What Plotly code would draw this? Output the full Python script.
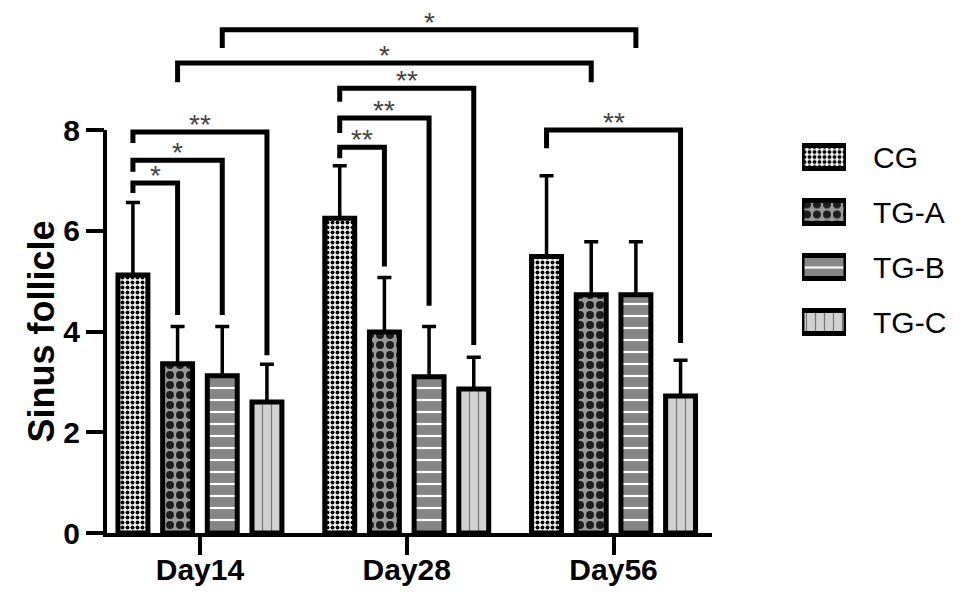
import plotly.graph_objects as go

# ---------------- data ----------------
categories = ["Day14", "Day28", "Day56"]
groups = ["CG", "TG-A", "TG-B", "TG-C"]

cg_mean = [5.12, 6.25, 5.49]
cg_err = [1.44, 1.04, 1.60]
tga_mean = [3.36, 3.99, 4.73]
tga_err = [0.74, 1.08, 1.05]
tgb_mean = [3.12, 3.10, 4.73]
tgb_err = [0.98, 1.00, 1.05]
tgc_mean = [2.60, 2.86, 2.72]
tgc_err = [0.75, 0.63, 0.71]

means = [cg_mean, tga_mean, tgb_mean, tgc_mean]
errs = [cg_err, tga_err, tgb_err, tgc_err]

y_ticks = [0, 2, 4, 6, 8]
y_title = "Sinus follicle"

# significance brackets: (cat_a, grp_a, cat_b, grp_b, y_top, y_leg_a, y_leg_b, label)
brackets = [
    (0, 0, 0, 1, 6.95, 6.75, 4.33, "*"),
    (0, 0, 0, 2, 7.40, 7.17, 4.33, "*"),
    (0, 0, 0, 3, 7.96, 7.74, 3.53, "**"),
    (1, 0, 1, 1, 7.66, 7.44, 5.29, "**"),
    (1, 0, 1, 2, 8.24, 7.94, 4.51, "**"),
    (1, 0, 1, 3, 8.83, 8.56, 3.73, "**"),
    (2, 0, 2, 3, 8.00, 7.64, 3.77, "**"),
    (0, 1, 2, 1, 9.33, 8.95, 8.95, "*"),
    (0, 2, 2, 2, 9.99, 9.63, 9.63, "*"),
]

# ---------------- styles ----------------
patterns = [
    dict(shape=".", fgcolor="#000000", bgcolor="#ffffff", size=5, solidity=0.5),
    dict(shape=".", fgcolor="#1e1e1e", bgcolor="#9a9a9a", size=10, solidity=0.5),
    dict(shape="-", fgcolor="#ffffff", bgcolor="#868686", size=12, solidity=0.18),
    dict(shape="|", fgcolor="#7a7a7a", bgcolor="#d2d2d2", size=9, solidity=0.14),
]

FONT = "Liberation Sans, Arial, sans-serif"
W, H = 964, 602
PAGE_OFF = 8  # default page margin of the html body
# target page-pixel geometry of the plot area
P_LEFT, P_RIGHT_AXIS, P_TOP, P_BOTTOM = 105, 712, 10, 533
ML = P_LEFT - PAGE_OFF
MT = P_TOP - PAGE_OFF
MR = 10
MB = H - (P_BOTTOM - PAGE_OFF)
plot_w = W - ML - MR
plot_h = H - MT - MB


def fx(page_x):
    return (page_x - P_LEFT) / plot_w


def fy(page_y):
    return (P_BOTTOM - page_y) / plot_h


px_per_unit = (533 - 130) / 8.0
y_max = plot_h / px_per_unit
x_range = [-0.459, 2.476]

bargap = 0.136
bargroupgap = 0.33
slot = (1 - bargap) / len(groups)

fig = go.Figure()


def pattern_marker(p):
    return dict(color=p["bgcolor"], line=dict(color="black", width=5),
                pattern=dict(shape=p["shape"], fgcolor=p["fgcolor"], bgcolor=p["bgcolor"],
                             size=p["size"], solidity=p["solidity"], fillmode="replace"))


for j, g in enumerate(groups):
    fig.add_trace(go.Bar(
        name=g, x=categories, y=means[j],
        marker=pattern_marker(patterns[j]),
        error_y=dict(type="data", array=errs[j], arrayminus=[0] * len(categories),
                     symmetric=False, thickness=3.5, width=7, color="black"),
        showlegend=False, hoverinfo="skip",
    ))

# custom legend: one swatch bar per group on a secondary axis pair
for j, g in enumerate(groups):
    fig.add_trace(go.Bar(
        x=[1], y=[g], orientation="h", xaxis="x2", yaxis="y2",
        width=0.42, offset=-0.21,
        marker=pattern_marker(patterns[j]),
        showlegend=False, hoverinfo="skip",
    ))


def bar_x(cat, grp):
    return cat + (grp - (len(groups) - 1) / 2) * slot


shapes = []
annotations = []
for ca, ga, cb, gb, yt, ya, yb, lab in brackets:
    xa, xb = bar_x(ca, ga), bar_x(cb, gb)
    shapes.append(dict(type="path", xref="x", yref="y",
                       path=f"M {xa},{ya} L {xa},{yt} L {xb},{yt} L {xb},{yb}",
                       line=dict(color="black", width=5)))
    annotations.append(dict(x=(xa + xb) / 2, y=yt, xref="x", yref="y", text=lab,
                            showarrow=False, yanchor="bottom", yshift=-10,
                            font=dict(family=FONT, size=28, color="#444444")))

# y-axis title centred on the 0..8 axis
annotations.append(dict(x=fx(41), y=4, xref="paper", yref="y", text=y_title,
                        textangle=-90, showarrow=False, xanchor="center", yanchor="middle",
                        font=dict(family=FONT, size=36, weight="bold", color="black")))

# y axis line (0..8)
shapes.append(dict(type="line", xref="x domain", yref="y domain", x0=0, x1=0,
                   y0=-4 / plot_h, y1=8 / y_max, line=dict(color="black", width=4)))

leg_top, leg_bot = 129.5, 349.5
fig.update_layout(
    width=W, height=H,
    margin=dict(l=ML, r=MR, t=MT, b=MB, autoexpand=False),
    paper_bgcolor="white", plot_bgcolor="white",
    barmode="group", bargap=bargap, bargroupgap=bargroupgap,
    font=dict(family=FONT, color="black"),
    xaxis=dict(domain=[0, fx(P_RIGHT_AXIS)], type="category", range=x_range, automargin=False,
               showline=True, linewidth=4, linecolor="black",
               ticks="outside", ticklen=18, tickwidth=4, tickcolor="black",
               ticklabelstandoff=-11,
               tickfont=dict(family=FONT, size=30, weight="bold", color="black"),
               showgrid=False, zeroline=False),
    yaxis=dict(range=[0, y_max], tickvals=y_ticks, ticktext=[str(v) for v in y_ticks],
               automargin=False,
               ticks="outside", ticklen=18, tickwidth=4, tickcolor="black",
               tickfont=dict(family=FONT, size=30, weight="bold", color="black"),
               showline=False, showgrid=False, zeroline=False),
    xaxis2=dict(domain=[fx(802), fx(846)], anchor="y2", range=[0, 1],
                visible=False, fixedrange=True, automargin=False),
    yaxis2=dict(domain=[fy(leg_bot), fy(leg_top)], anchor="x2",
                side="right", range=[3.5, -0.5], type="category", automargin=False,
                showgrid=False, showline=False, zeroline=False, ticks="",
                ticklabelstandoff=26,
                tickfont=dict(family=FONT, size=30, color="black")),
    shapes=shapes, annotations=annotations,
)

fig.write_html("out.html")
